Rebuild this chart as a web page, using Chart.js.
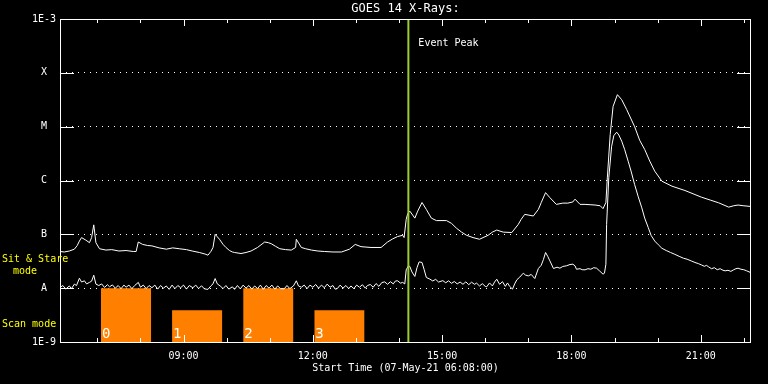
<!DOCTYPE html>
<html>
<head>
<meta charset="utf-8">
<script src="https://cdn.jsdelivr.net/npm/chart.js@4.4.1/dist/chart.umd.min.js"></script>
<style>
    html, body { margin: 0; padding: 0; background: #000; }
    #chart { display: block; }
</style>
</head>
<body>
<canvas id="chart" width="768" height="384"></canvas>
<script>
const PLOT_START = "06:08";
const PLOT_END = "22:10";
const EVENT_PEAK = "14:13";

// GOES 14, 1-8 A channel (upper curve)
const LONG_CHANNEL = [
    ["06:08", 4.8e-8], ["06:14", 4.7e-8], ["06:21", 4.9e-8], ["06:28", 5.3e-8], ["06:32", 6.2e-8],
    ["06:35", 7.5e-8], ["06:38", 8.7e-8], ["06:44", 7.8e-8], ["06:49", 7.0e-8], ["06:52", 8.7e-8],
    ["06:55", 1.5e-7], ["06:58", 7.0e-8], ["07:03", 5.4e-8], ["07:12", 5.1e-8], ["07:20", 5.2e-8],
    ["07:30", 4.9e-8], ["07:40", 5.0e-8], ["07:50", 4.8e-8], ["07:54", 4.8e-8], ["07:57", 7.2e-8],
    ["08:03", 6.5e-8], ["08:10", 6.2e-8], ["08:16", 6.1e-8], ["08:26", 5.6e-8], ["08:36", 5.3e-8],
    ["08:45", 5.6e-8], ["08:54", 5.4e-8], ["09:04", 5.2e-8], ["09:12", 4.9e-8], ["09:22", 4.6e-8],
    ["09:30", 4.3e-8], ["09:34", 4.1e-8], ["09:38", 4.8e-8], ["09:41", 5.7e-8], ["09:44", 1.0e-7],
    ["09:47", 9.0e-8], ["09:50", 8.1e-8], ["09:55", 6.5e-8], ["09:59", 5.7e-8], ["10:04", 5.0e-8],
    ["10:08", 4.7e-8], ["10:11", 4.6e-8], ["10:20", 4.4e-8], ["10:27", 4.6e-8], ["10:34", 4.9e-8],
    ["10:43", 5.7e-8], ["10:53", 7.2e-8], ["10:58", 7.0e-8], ["11:02", 6.7e-8], ["11:08", 6.0e-8],
    ["11:14", 5.4e-8], ["11:22", 5.2e-8], ["11:30", 5.1e-8], ["11:36", 5.7e-8], ["11:37", 8.1e-8],
    ["11:44", 5.7e-8], ["11:50", 5.4e-8], ["11:58", 5.1e-8], ["12:07", 4.9e-8], ["12:16", 4.8e-8],
    ["12:28", 4.7e-8], ["12:40", 4.7e-8], ["12:51", 5.3e-8], ["12:59", 6.5e-8], ["13:07", 5.9e-8],
    ["13:14", 5.8e-8], ["13:21", 5.7e-8], ["13:35", 5.7e-8], ["13:44", 7.2e-8], ["13:51", 8.2e-8],
    ["13:58", 9.1e-8], ["14:05", 9.6e-8], ["14:07", 8.7e-8], ["14:10", 1.9e-7], ["14:12", 2.4e-7],
    ["14:15", 2.7e-7], ["14:22", 2.0e-7], ["14:26", 2.7e-7], ["14:32", 3.9e-7], ["14:38", 2.9e-7],
    ["14:45", 2.0e-7], ["14:52", 1.8e-7], ["15:06", 1.8e-7], ["15:13", 1.6e-7], ["15:20", 1.3e-7],
    ["15:27", 1.1e-7], ["15:34", 9.6e-8], ["15:43", 8.7e-8], ["15:52", 8.1e-8], ["16:04", 9.6e-8],
    ["16:10", 1.1e-7], ["16:16", 1.2e-7], ["16:25", 1.1e-7], ["16:37", 1.08e-7], ["16:46", 1.53e-7],
    ["16:50", 1.9e-7], ["16:55", 2.35e-7], ["17:07", 2.19e-7], ["17:14", 2.91e-7], ["17:18", 3.9e-7],
    ["17:24", 5.95e-7], ["17:30", 4.8e-7], ["17:39", 3.6e-7], ["17:48", 3.8e-7], ["17:55", 3.8e-7],
    ["18:02", 4.0e-7], ["18:05", 4.5e-7], ["18:12", 3.6e-7], ["18:19", 3.6e-7], ["18:26", 3.55e-7],
    ["18:33", 3.5e-7], ["18:40", 3.4e-7], ["18:44", 3.0e-7], ["18:48", 3.9e-7], ["18:50", 1.12e-6],
    ["18:54", 7.2e-6], ["18:58", 2.38e-5], ["19:04", 3.93e-5], ["19:10", 3.17e-5], ["19:17", 2.07e-5],
    ["19:28", 1.0e-5], ["19:35", 5.6e-6], ["19:42", 3.77e-6], ["19:49", 2.3e-6], ["19:56", 1.49e-6],
    ["20:06", 9.7e-7], ["20:20", 7.84e-7], ["20:38", 6.52e-7], ["21:01", 4.9e-7], ["21:14", 4.3e-7],
    ["21:25", 3.85e-7], ["21:39", 3.2e-7], ["21:46", 3.4e-7], ["21:52", 3.5e-7], ["21:59", 3.4e-7],
    ["22:09", 3.3e-7],
];

// GOES 14, 0.5-4 A channel (lower, noisier curve)
const SHORT_CHANNEL = [
    ["06:08", 1.03e-8], ["06:12", 1.12e-8], ["06:16", 0.96e-8], ["06:21", 1.1e-8], ["06:24", 0.98e-8],
    ["06:28", 1.19e-8], ["06:31", 1.12e-8], ["06:35", 1.53e-8], ["06:38", 1.3e-8], ["06:42", 1.37e-8],
    ["06:45", 1.2e-8], ["06:49", 1.28e-8], ["06:52", 1.35e-8], ["06:55", 1.74e-8], ["06:58", 1.19e-8],
    ["07:02", 1.12e-8], ["07:06", 1.2e-8], ["07:10", 1.03e-8], ["07:14", 1.16e-8], ["07:17", 1.06e-8],
    ["07:21", 1.15e-8], ["07:25", 1.0e-8], ["07:29", 1.12e-8], ["07:33", 0.98e-8], ["07:37", 1.14e-8],
    ["07:40", 1.04e-8], ["07:44", 1.14e-8], ["07:48", 0.98e-8], ["07:52", 1.12e-8], ["07:57", 1.28e-8],
    ["08:00", 1.04e-8], ["08:04", 1.14e-8], ["08:08", 0.98e-8], ["08:12", 1.12e-8], ["08:16", 1.02e-8],
    ["08:20", 1.14e-8], ["08:24", 0.96e-8], ["08:28", 1.12e-8], ["08:32", 1.0e-8], ["08:36", 1.1e-8],
    ["08:40", 0.95e-8], ["08:44", 1.14e-8], ["08:48", 0.98e-8], ["08:52", 1.12e-8], ["08:56", 1.02e-8],
    ["09:00", 1.14e-8], ["09:04", 0.96e-8], ["09:08", 1.12e-8], ["09:13", 1.02e-8], ["09:17", 1.14e-8],
    ["09:21", 0.98e-8], ["09:25", 1.11e-8], ["09:29", 0.97e-8], ["09:34", 0.95e-8], ["09:38", 1.1e-8],
    ["09:41", 1.2e-8], ["09:44", 1.51e-8], ["09:47", 1.2e-8], ["09:51", 1.1e-8], ["09:55", 0.98e-8],
    ["09:59", 1.12e-8], ["10:03", 0.96e-8], ["10:08", 1.06e-8], ["10:11", 0.95e-8], ["10:15", 1.12e-8],
    ["10:19", 0.97e-8], ["10:23", 1.14e-8], ["10:27", 1.0e-8], ["10:31", 1.12e-8], ["10:35", 0.96e-8],
    ["10:39", 1.1e-8], ["10:43", 0.98e-8], ["10:47", 1.14e-8], ["10:51", 0.95e-8], ["10:55", 1.12e-8],
    ["10:59", 1.0e-8], ["11:03", 1.14e-8], ["11:07", 0.96e-8], ["11:11", 1.1e-8], ["11:15", 0.98e-8],
    ["11:20", 0.97e-8], ["11:24", 1.12e-8], ["11:28", 0.98e-8], ["11:33", 1.1e-8], ["11:37", 1.37e-8],
    ["11:40", 1.1e-8], ["11:44", 1.04e-8], ["11:48", 1.14e-8], ["11:52", 0.98e-8], ["11:56", 1.14e-8],
    ["12:00", 1.04e-8], ["12:04", 1.17e-8], ["12:08", 1.0e-8], ["12:12", 1.14e-8], ["12:16", 1.02e-8],
    ["12:20", 1.19e-8], ["12:24", 1.04e-8], ["12:28", 1.12e-8], ["12:31", 0.96e-8], ["12:34", 0.98e-8],
    ["12:38", 1.14e-8], ["12:42", 1.0e-8], ["12:46", 1.12e-8], ["12:50", 0.98e-8], ["12:53", 1.1e-8],
    ["12:57", 0.98e-8], ["13:01", 1.14e-8], ["13:05", 1.04e-8], ["13:09", 1.16e-8], ["13:13", 1.0e-8],
    ["13:16", 1.12e-8], ["13:20", 1.17e-8], ["13:24", 1.04e-8], ["13:28", 1.22e-8], ["13:32", 1.08e-8],
    ["13:36", 1.27e-8], ["13:40", 1.31e-8], ["13:44", 1.18e-8], ["13:48", 1.32e-8], ["13:52", 1.2e-8],
    ["13:55", 1.36e-8], ["13:58", 1.37e-8], ["14:02", 1.24e-8], ["14:05", 1.28e-8], ["14:08", 1.2e-8],
    ["14:10", 2.19e-8], ["14:13", 2.6e-8], ["14:15", 2.53e-8], ["14:18", 2.0e-8], ["14:22", 1.65e-8],
    ["14:25", 2.4e-8], ["14:28", 3.08e-8], ["14:32", 3.0e-8], ["14:35", 2.2e-8], ["14:38", 1.58e-8],
    ["14:43", 1.47e-8], ["14:47", 1.36e-8], ["14:51", 1.46e-8], ["14:55", 1.3e-8], ["15:01", 1.38e-8],
    ["15:05", 1.26e-8], ["15:09", 1.37e-8], ["15:13", 1.23e-8], ["15:17", 1.33e-8], ["15:21", 1.2e-8],
    ["15:25", 1.3e-8], ["15:29", 1.18e-8], ["15:33", 1.31e-8], ["15:37", 1.16e-8], ["15:41", 1.29e-8],
    ["15:45", 1.18e-8], ["15:48", 1.24e-8], ["15:52", 1.1e-8], ["15:56", 1.21e-8], ["16:00", 1.08e-8],
    ["16:02", 1.06e-8], ["16:06", 1.25e-8], ["16:10", 1.1e-8], ["16:13", 1.3e-8], ["16:16", 1.47e-8],
    ["16:20", 1.18e-8], ["16:24", 1.32e-8], ["16:28", 1.08e-8], ["16:31", 1.25e-8], ["16:34", 1.08e-8],
    ["16:38", 0.96e-8], ["16:41", 1.2e-8], ["16:44", 1.43e-8], ["16:48", 1.6e-8], ["16:53", 1.9e-8],
    ["16:56", 1.75e-8], ["17:00", 1.69e-8], ["17:04", 1.8e-8], ["17:09", 1.51e-8], ["17:14", 2.32e-8],
    ["17:18", 2.67e-8], ["17:21", 3.4e-8], ["17:24", 4.6e-8], ["17:27", 3.9e-8], ["17:30", 3.21e-8],
    ["17:35", 2.32e-8], ["17:40", 2.45e-8], ["17:44", 2.35e-8], ["17:48", 2.53e-8], ["17:53", 2.6e-8],
    ["17:58", 2.75e-8], ["18:02", 2.79e-8], ["18:05", 2.6e-8], ["18:07", 2.25e-8], ["18:12", 2.3e-8],
    ["18:15", 2.2e-8], ["18:19", 2.19e-8], ["18:23", 2.3e-8], ["18:27", 2.25e-8], ["18:31", 2.4e-8],
    ["18:35", 2.35e-8], ["18:39", 2.1e-8], ["18:44", 1.82e-8], ["18:46", 1.9e-8], ["18:48", 2.79e-8],
    ["18:49", 1.53e-7], ["18:52", 1.12e-6], ["18:56", 4.34e-6], ["18:59", 6.8e-6], ["19:03", 7.9e-6],
    ["19:06", 7.0e-6], ["19:10", 5.37e-6], ["19:14", 3.8e-6], ["19:19", 2.28e-6], ["19:23", 1.5e-6],
    ["19:28", 8.4e-7], ["19:33", 5.0e-7], ["19:38", 3.1e-7], ["19:42", 2.0e-7], ["19:47", 1.33e-7],
    ["19:51", 9.5e-8], ["19:56", 7.5e-8], ["20:01", 6.4e-8], ["20:06", 5.5e-8], ["20:12", 5.0e-8],
    ["20:18", 4.6e-8], ["20:24", 4.25e-8], ["20:30", 3.9e-8], ["20:36", 3.6e-8], ["20:41", 3.45e-8],
    ["20:47", 3.2e-8], ["20:52", 3.0e-8], ["20:57", 2.85e-8], ["21:01", 2.7e-8], ["21:05", 2.55e-8],
    ["21:08", 2.65e-8], ["21:11", 2.49e-8], ["21:15", 2.3e-8], ["21:19", 2.4e-8], ["21:23", 2.2e-8],
    ["21:27", 2.3e-8], ["21:31", 2.15e-8], ["21:34", 2.1e-8], ["21:38", 2.15e-8], ["21:42", 2.05e-8],
    ["21:46", 2.2e-8], ["21:49", 2.3e-8], ["21:52", 2.35e-8], ["21:56", 2.25e-8], ["22:00", 2.2e-8],
    ["22:04", 2.1e-8], ["22:09", 1.96e-8],
];

// IRIS observing blocks (orange)
const SCAN_LABELS = ["0", "1", "2", "3"];
const SCAN_START = ["07:05", "08:44", "10:23", "12:02"];
const SCAN_END = ["08:15", "09:54", "11:33", "13:12"];
const SCAN_TOP = [1e-8, 3.9e-9, 1e-8, 3.9e-9];

const Y_TICKS = [1e-9, 1e-8, 1e-7, 1e-6, 1e-5, 1e-4, 1e-3];
const Y_LABELS = ["1E-9", "A", "B", "C", "M", "X", "1E-3"];
const X_TICKS = [7, 8, 9, 10, 11, 12, 13, 14, 15, 16, 17, 18, 19, 20, 21, 22];
const X_MAJOR = [9, 12, 15, 18, 21];
const X_LABELS = ["09:00", "12:00", "15:00", "18:00", "21:00"];

const FONT = "'DejaVu Sans Mono', monospace";
const WHITE = "#ffffff";
const YELLOW = "#ffff00";
const ORANGE = "#ff8000";
const GREEN = "#9acd32";

function hours(hhmm) {
    const [h, m] = hhmm.split(":").map(Number);
    return h + m / 60;
}

function toPoints(series) {
    return series.map(([t, v]) => ({ x: hours(t), y: v }));
}

const curveStyle = {
    borderColor: WHITE,
    borderWidth: 1,
    pointRadius: 0,
    tension: 0,
    fill: false,
    order: 1,
};

const scanDatasets = SCAN_START.map((start, i) => ({
    label: `scan ${SCAN_LABELS[i]}`,
    data: [
        { x: hours(start), y: SCAN_TOP[i] },
        { x: hours(SCAN_END[i]), y: SCAN_TOP[i] },
    ],
    borderWidth: 0,
    borderColor: ORANGE,
    backgroundColor: ORANGE,
    pointRadius: 0,
    fill: { value: Y_TICKS[0] },
    order: 2,
}));

// IDL style frame: box, inward ticks, labels sitting outside the plot
const idlFrame = {
    id: "idlFrame",
    afterDraw(chart) {
        const { ctx, chartArea: area, scales } = chart;
        const x = scales.x;
        const y = scales.y;
        ctx.save();
        ctx.strokeStyle = WHITE;
        ctx.lineWidth = 1;
        ctx.beginPath();
        X_TICKS.forEach((v) => {
            const px = Math.round(x.getPixelForValue(v)) + 0.5;
            const len = X_MAJOR.includes(v) ? 7 : 4;
            ctx.moveTo(px, area.bottom);
            ctx.lineTo(px, area.bottom - len);
            ctx.moveTo(px, area.top);
            ctx.lineTo(px, area.top + len);
        });
        Y_TICKS.forEach((v) => {
            const py = Math.round(y.getPixelForValue(v)) + 0.5;
            ctx.moveTo(area.left, py);
            ctx.lineTo(area.left + 14, py);
            ctx.moveTo(area.right - 14, py);
            ctx.lineTo(area.right, py);
        });
        ctx.stroke();
        ctx.strokeRect(area.left + 0.5, area.top + 0.5, area.right - area.left - 1, area.bottom - area.top);

        ctx.font = `10px ${FONT}`;
        ctx.textBaseline = "middle";
        ctx.textAlign = "left";
        ctx.fillStyle = WHITE;
        ctx.fillText("Event Peak", x.getPixelForValue(hours(EVENT_PEAK)) + 10, area.top + 24);

        ctx.fillStyle = YELLOW;
        ctx.fillText("Sit & Stare", 2, 259);
        ctx.fillText("mode", 13, 271);
        ctx.fillText("Scan mode", 2, 324);

        ctx.font = `14px ${FONT}`;
        ctx.textBaseline = "alphabetic";
        ctx.fillStyle = WHITE;
        SCAN_START.forEach((start, i) => {
            ctx.fillText(SCAN_LABELS[i], x.getPixelForValue(hours(start)) + 1, area.bottom - 4);
        });
        ctx.restore();
    },
};

new Chart(document.getElementById("chart"), {
    type: "line",
    data: {
        datasets: [
            {
                label: "Event Peak",
                data: [
                    { x: hours(EVENT_PEAK), y: Y_TICKS[0] },
                    { x: hours(EVENT_PEAK), y: Y_TICKS[Y_TICKS.length - 1] },
                ],
                borderColor: GREEN,
                borderWidth: 2,
                pointRadius: 0,
                order: 0,
            },
            { label: "1-8 A", data: toPoints(LONG_CHANNEL), ...curveStyle },
            { label: "0.5-4 A", data: toPoints(SHORT_CHANNEL), ...curveStyle },
            ...scanDatasets,
        ],
    },
    options: {
        responsive: false,
        devicePixelRatio: 1,
        animation: false,
        events: [],
        layout: { padding: { top: 0, right: 17, bottom: 0, left: 0 } },
        plugins: {
            legend: { display: false },
            tooltip: { enabled: false },
            title: {
                display: true,
                text: "GOES 14 X-Rays:",
                color: WHITE,
                fullSize: false,
                font: { family: FONT, size: 12, weight: "normal", lineHeight: 1 },
                padding: { top: 3, bottom: 4 },
            },
        },
        scales: {
            x: {
                type: "linear",
                min: hours(PLOT_START),
                max: hours(PLOT_END),
                afterBuildTicks(scale) {
                    scale.ticks = X_TICKS.map((value) => ({ value }));
                },
                afterFit(scale) {
                    scale.height = 42;
                },
                grid: { display: false, tickLength: 0 },
                border: { display: false },
                ticks: {
                    color: WHITE,
                    font: { family: FONT, size: 10 },
                    autoSkip: false,
                    maxRotation: 0,
                    padding: 8,
                    callback(value) {
                        const i = X_MAJOR.indexOf(value);
                        return i >= 0 ? X_LABELS[i] : "";
                    },
                },
                title: {
                    display: true,
                    text: "Start Time (07-May-21 06:08:00)",
                    color: WHITE,
                    font: { family: FONT, size: 10 },
                    padding: { top: 0, bottom: 10 },
                },
            },
            y: {
                type: "logarithmic",
                min: Y_TICKS[0],
                max: Y_TICKS[Y_TICKS.length - 1],
                afterBuildTicks(scale) {
                    scale.ticks = Y_TICKS.map((value) => ({ value }));
                },
                afterFit(scale) {
                    scale.width = 60;
                },
                grid: { color: WHITE, lineWidth: 1, drawTicks: false },
                border: { display: false, dash: [1, 5] },
                ticks: {
                    color: WHITE,
                    font: { family: FONT, size: 10 },
                    crossAlign: "center",
                    padding: 4,
                    callback(value) {
                        const i = Y_TICKS.findIndex((t) => Math.abs(t - value) / t < 1e-6);
                        return i >= 0 ? Y_LABELS[i] : "";
                    },
                },
            },
        },
    },
    plugins: [idlFrame],
});
</script>
</body>
</html>
